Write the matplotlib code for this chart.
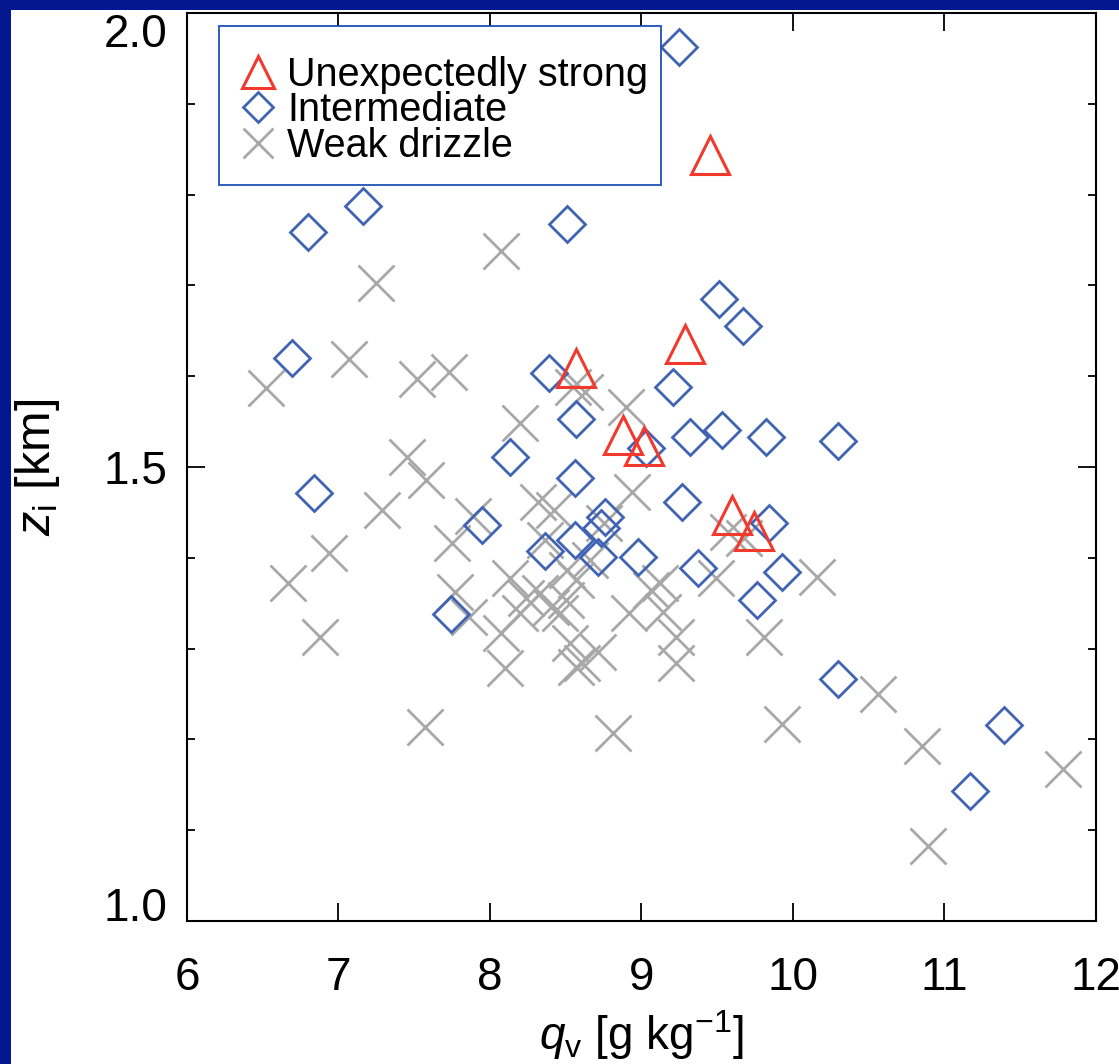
import numpy as np
import matplotlib
matplotlib.use("Agg")
import matplotlib.pyplot as plt
from matplotlib.patches import Rectangle
from matplotlib.ticker import MultipleLocator, FixedLocator, FormatStrFormatter

plt.rcParams["font.family"] = ["Liberation Sans", "DejaVu Sans"]
plt.rcParams["mathtext.fontset"] = "custom"
plt.rcParams["mathtext.rm"] = "Liberation Sans"
plt.rcParams["mathtext.it"] = "Liberation Sans:italic"

# --- datos: qv [g/kg] vs zi [km] por categoria de llovizna ---
strong_qv = [9.45, 9.29, 8.57, 8.88, 9.02, 9.60, 9.74]
strong_zi = [1.844, 1.635, 1.609, 1.535, 1.523, 1.447, 1.430]

inter_qv = [9.25, 8.51, 7.16, 6.80, 6.69, 8.39, 8.57, 8.13, 8.56, 9.51,
            9.67, 9.21, 9.32, 9.53, 9.82, 10.30, 9.03, 6.84, 7.95, 8.76,
            8.73, 8.56, 8.36, 8.71, 8.98, 7.74, 9.27, 9.84, 9.37, 9.93,
            9.76, 10.30, 11.39, 11.17]
inter_zi = [1.963, 1.768, 1.787, 1.759, 1.620, 1.604, 1.553, 1.511, 1.488, 1.685,
            1.655, 1.588, 1.533, 1.541, 1.533, 1.529, 1.521, 1.471, 1.436, 1.445,
            1.433, 1.420, 1.407, 1.401, 1.401, 1.338, 1.461, 1.438, 1.389, 1.384,
            1.354, 1.267, 1.216, 1.143]

weak_qv = [6.52, 7.07, 7.25, 8.07, 7.52, 7.73, 8.55, 8.63, 8.90, 8.20,
           7.45, 7.58, 7.29, 6.94, 6.67, 6.88, 7.89, 7.75, 7.77, 7.86,
           8.32, 8.42, 8.94, 8.75, 8.13, 8.24, 8.33, 8.40, 8.57, 8.51,
           8.07, 8.10, 8.53, 8.71, 8.57, 8.92, 7.57, 8.81, 9.57, 9.68,
           9.49, 10.16, 9.14, 9.06, 9.23, 9.23, 9.81, 10.56, 9.93, 10.85,
           10.89, 11.78, 8.20, 8.46, 9.12, 8.61, 8.36, 8.66, 8.50]
weak_zi = [1.587, 1.619, 1.703, 1.738, 1.597, 1.605, 1.588, 1.583, 1.566, 1.548,
           1.511, 1.486, 1.453, 1.405, 1.372, 1.313, 1.446, 1.416, 1.362, 1.335,
           1.461, 1.453, 1.472, 1.438, 1.378, 1.356, 1.361, 1.346, 1.376, 1.387,
           1.317, 1.279, 1.306, 1.296, 1.280, 1.339, 1.214, 1.207, 1.428, 1.422,
           1.378, 1.379, 1.340, 1.365, 1.313, 1.284, 1.313, 1.250, 1.217, 1.193,
           1.083, 1.167, 1.339, 1.339, 1.372, 1.284, 1.420, 1.398, 1.354]

red = "#F2392E"
blue = "#4163B4"
gray = "#A8A8A8"

fig = plt.figure(figsize=(11.19, 10.64), dpi=100, facecolor="#03188F")
# fondo blanco con borde azul arriba e izquierda
fig.patches.append(Rectangle((11 / 1119, 0), 1, 1 - 10 / 1064,
                             transform=fig.transFigure, facecolor="white",
                             edgecolor="none", zorder=-5))

ax = fig.add_axes([0.1671, 0.1344, 0.8123, 0.8534])
ax.set_facecolor("white")

ax.plot(weak_qv, weak_zi, linestyle="none", marker="x", ms=26, mew=2.0,
        color=gray, label="Weak drizzle", zorder=2)
ax.plot(inter_qv, inter_zi, linestyle="none", marker="D", ms=18.5, mew=2.0,
        mfc="none", mec=blue, label="Intermediate", zorder=3)
ax.plot(strong_qv, strong_zi, linestyle="none", marker="^", ms=27, mew=2.2,
        mfc="none", mec=red, label="Unexpectedly strong", zorder=4)

ax.set_xlim(6, 12)
ax.set_ylim(1.0, 2.0)
ax.xaxis.set_major_locator(MultipleLocator(1))
ax.yaxis.set_major_locator(FixedLocator([1.0, 1.5, 2.0]))
ax.yaxis.set_minor_locator(MultipleLocator(0.1))
ax.yaxis.set_major_formatter(FormatStrFormatter("%.1f"))

ax.tick_params(which="both", direction="in", top=True, right=True,
               width=1.3, labelsize=33)
ax.tick_params(which="major", length=13)
ax.tick_params(which="minor", length=6)
ax.tick_params(axis="x", pad=25)
ax.tick_params(axis="y", pad=14)
for s in ax.spines.values():
    s.set_linewidth(1.5)

# etiquetas extremas del eje y dentro del rango del eje
yticks = ax.yaxis.get_major_ticks()
yticks[0].label1.set_va("baseline")
yticks[-1].label1.set_va("top")

ax.set_xlabel(r"$q_\mathrm{v}$ [g kg$^{-1}$]", fontsize=33, labelpad=6)
ax.set_ylabel(r"$z_\mathrm{i}$ [km]", fontsize=35, labelpad=30)

# marco de la leyenda dibujado aparte
ax.add_patch(Rectangle((0.0352, 0.8106), 0.4863, 0.1751,
                       transform=ax.transAxes, facecolor="white",
                       edgecolor="#1F50B4", linewidth=1.3, zorder=5))

h, l = ax.get_legend_handles_labels()
leg = ax.legend(h[::-1], l[::-1], loc="upper left",
                bbox_to_anchor=(0.0561, 0.953), borderaxespad=0,
                fontsize=28.5, markerscale=0.85, handlelength=1.0,
                handletextpad=0.25, labelspacing=-0.06, borderpad=0,
                frameon=False)
leg.set_zorder(6)

fig.savefig("out.png", dpi=100, facecolor=fig.get_facecolor())
